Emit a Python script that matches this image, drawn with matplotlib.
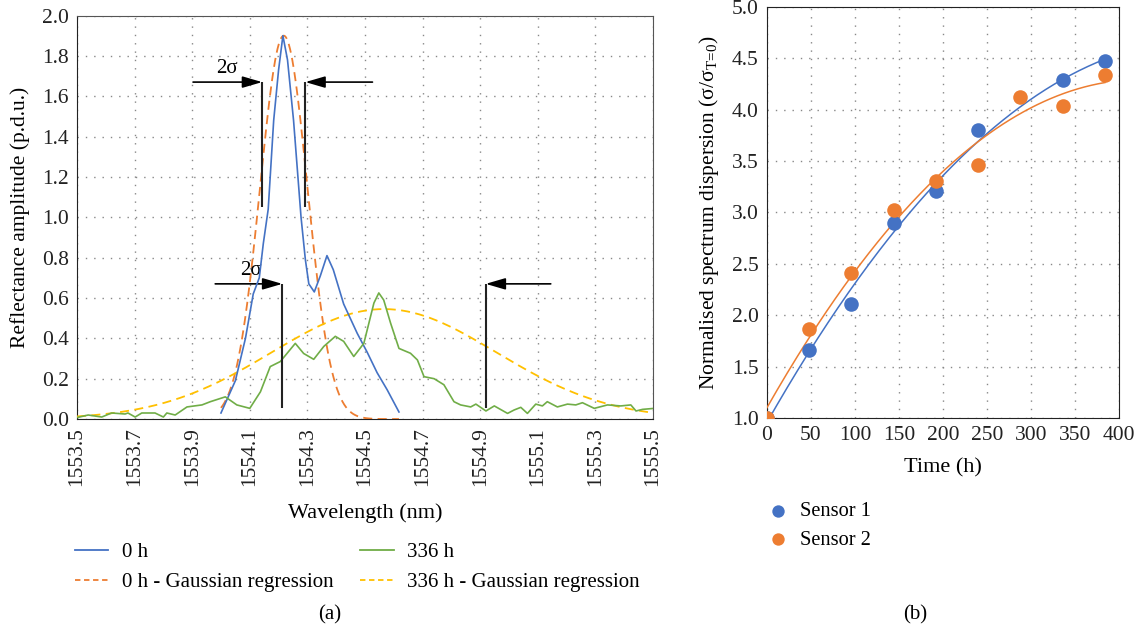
import numpy as np
import matplotlib.pyplot as plt
from matplotlib.lines import Line2D

plt.rcParams['font.family'] = ['Liberation Serif', 'DejaVu Serif']
plt.rcParams['mathtext.fontset'] = 'custom'
plt.rcParams['mathtext.rm'] = 'Liberation Serif'

BLUE = '#4472C4'
ORANGE = '#ED7D31'
GREEN = '#70AD47'
YELLOW = '#FFC000'

# ---- panel (a): spectra ----
wl_0h = [1554.00, 1554.05, 1554.085, 1554.112, 1554.133, 1554.147, 1554.164, 1554.183,
         1554.20, 1554.215, 1554.231, 1554.252, 1554.278, 1554.293, 1554.305, 1554.324,
         1554.345, 1554.368, 1554.39, 1554.426, 1554.473, 1554.508, 1554.542, 1554.577,
         1554.618]
amp_0h = [0.03, 0.19, 0.40, 0.62, 0.70, 0.87, 1.04, 1.48,
          1.73, 1.90, 1.78, 1.48, 1.00, 0.79, 0.67, 0.63,
          0.71, 0.81, 0.74, 0.57, 0.425, 0.33, 0.23, 0.145,
          0.035]

wl_336h = [1553.493, 1553.539, 1553.586, 1553.62, 1553.667, 1553.677, 1553.702, 1553.725,
           1553.771, 1553.80, 1553.812, 1553.841, 1553.882, 1553.934, 1553.963, 1554.015,
           1554.055, 1554.10, 1554.137, 1554.171, 1554.206, 1554.258, 1554.287, 1554.322,
           1554.357, 1554.397, 1554.426, 1554.461, 1554.496, 1554.531, 1554.548, 1554.565,
           1554.589, 1554.618, 1554.658, 1554.682, 1554.705, 1554.74, 1554.774, 1554.809,
           1554.832, 1554.867, 1554.885, 1554.92, 1554.949, 1554.995, 1555.018, 1555.041,
           1555.064, 1555.093, 1555.116, 1555.133, 1555.168, 1555.203, 1555.232, 1555.255,
           1555.296, 1555.342, 1555.388, 1555.423, 1555.441, 1555.464, 1555.505]
amp_336h = [0.005, 0.02, 0.01, 0.03, 0.025, 0.03, 0.01, 0.03,
            0.03, 0.01, 0.03, 0.02, 0.06, 0.07, 0.086, 0.11,
            0.07, 0.053, 0.135, 0.26, 0.285, 0.375, 0.325, 0.296,
            0.36, 0.41, 0.385, 0.31, 0.375, 0.575, 0.625, 0.59,
            0.475, 0.35, 0.326, 0.293, 0.21, 0.20, 0.17, 0.086,
            0.07, 0.06, 0.074, 0.04, 0.065, 0.028, 0.045, 0.058,
            0.028, 0.074, 0.065, 0.086, 0.06, 0.074, 0.07, 0.081,
            0.053, 0.07, 0.065, 0.07, 0.04, 0.048, 0.053]

# Gaussian regression parameters (amplitude, centre, sigma)
gauss_0h = (1.90, 1554.218, 0.082)
gauss_336h = (0.545, 1554.566, 0.39)

# ---- panel (b): dispersion ----
time_s1 = [0, 48, 96, 144, 192, 240, 336, 384]
disp_s1 = [1.00, 1.66, 2.11, 2.90, 3.21, 3.80, 4.29, 4.47]
time_s2 = [0, 48, 96, 144, 192, 240, 288, 336, 384]
disp_s2 = [1.00, 1.87, 2.41, 3.02, 3.31, 3.46, 4.12, 4.04, 4.34]

fig = plt.figure(figsize=(11.42, 6.33), dpi=100)
ax1 = fig.add_axes([0.0674, 0.338, 0.5044, 0.6375])
ax2 = fig.add_axes([0.6716, 0.3397, 0.3083, 0.6493])

grid_kw = dict(color='#888888', linestyle=(0, (1, 5)), linewidth=1.0)
TICK_FS = 15.5
LABEL_FS = 15.5


def gaussian(x, p):
    a, c, s = p
    return a * np.exp(-(x - c) ** 2 / (2 * s ** 2))


x0 = np.linspace(wl_0h[0], wl_0h[-1], 300)
x336 = np.linspace(1553.5, 1555.5, 400)

ax1.plot(wl_0h, amp_0h, color=BLUE, lw=1.2, label='0 h', zorder=4)
ax1.plot(x0, gaussian(x0, gauss_0h), color=ORANGE, lw=1.3, ls=(0, (5, 3)),
         label='0 h - Gaussian regression', zorder=3)
ax1.plot(wl_336h, amp_336h, color=GREEN, lw=1.2, label='336 h', zorder=4)
ax1.plot(x336, gaussian(x336, gauss_336h), color=YELLOW, lw=1.3, ls=(0, (5, 3)),
         label='336 h - Gaussian regression', zorder=3)

# 2-sigma annotations
arr = dict(arrowstyle='-|>,head_length=1.2,head_width=0.35', color='black', lw=1.2,
           shrinkA=0, shrinkB=0)
ax1.vlines([1554.143, 1554.293], 1.05, 1.67, color='#222222', lw=1.5, zorder=5)
ax1.annotate('', xy=(1554.143, 1.67), xytext=(1553.903, 1.67), arrowprops=arr)
ax1.annotate('', xy=(1554.293, 1.67), xytext=(1554.526, 1.67), arrowprops=arr)
ax1.text(1554.02, 1.69, '2σ', fontsize=15, ha='center', va='bottom')

ax1.vlines([1554.213, 1554.919], 0.055, 0.67, color='#222222', lw=1.5, zorder=5)
ax1.annotate('', xy=(1554.213, 0.67), xytext=(1553.98, 0.67), arrowprops=arr)
ax1.annotate('', xy=(1554.919, 0.67), xytext=(1555.145, 0.67), arrowprops=arr)
ax1.text(1554.105, 0.69, '2σ', fontsize=15, ha='center', va='bottom')

ax1.set_xlim(1553.5, 1555.5)
ax1.set_ylim(0, 2.0)
xt = np.round(np.arange(1553.5, 1555.51, 0.2), 1)
ax1.set_xticks(xt)
ax1.set_xticklabels([f'{v:.1f}' for v in xt], rotation=90)
ax1.set_yticks(np.round(np.arange(0, 2.01, 0.2), 1))
ax1.yaxis.set_major_formatter(plt.FormatStrFormatter('%.1f'))
ax1.tick_params(length=0, labelsize=TICK_FS, colors='#222222', pad=6)
ax1.grid(True, **grid_kw)
ax1.set_axisbelow(True)
for sp in ax1.spines.values():
    sp.set_color('#555555')
ax1.spines['left'].set_color('#222222')
ax1.spines['bottom'].set_color('#222222')
ax1.set_xlabel('Wavelength (nm)', fontsize=16, labelpad=12)
ax1.set_ylabel('Reflectance amplitude (p.d.u.)', fontsize=LABEL_FS)
ax1.yaxis.set_label_coords(-0.082, 0.5)

leg_handles = [Line2D([], [], color=BLUE, lw=1.3),
               Line2D([], [], color=ORANGE, lw=1.3, ls=(0, (3, 2))),
               Line2D([], [], color=GREEN, lw=1.3),
               Line2D([], [], color=YELLOW, lw=1.3, ls=(0, (3, 2)))]
leg_labels = ['0 h', '0 h - Gaussian regression', '336 h', '336 h - Gaussian regression']
fig.legend(leg_handles, leg_labels, ncol=2, loc='upper left',
           bbox_to_anchor=(0.049, 0.172), frameon=False, fontsize=15,
           handlelength=1.6, columnspacing=1.3, labelspacing=0.5, handletextpad=0.65,
           bbox_transform=fig.transFigure)

# panel (b)
t_fit = np.linspace(0, 384, 200)
c1 = np.polyfit(time_s1, disp_s1, 2)
c2 = np.polyfit(time_s2, disp_s2, 2)
ax2.plot(t_fit, np.polyval(c1, t_fit), color=BLUE, lw=1.1, zorder=3)
ax2.plot(t_fit, np.polyval(c2, t_fit), color=ORANGE, lw=1.1, zorder=3)
ax2.scatter(time_s1, disp_s1, s=110, color=BLUE, label='Sensor 1', zorder=4, linewidths=0)
ax2.scatter(time_s2, disp_s2, s=110, color=ORANGE, label='Sensor 2', zorder=4, linewidths=0)
ax2.set_xlim(0, 400)
ax2.set_ylim(1.0, 5.0)
ax2.set_xticks(np.arange(0, 401, 50))
ax2.set_yticks(np.arange(1.0, 5.01, 0.5))
ax2.yaxis.set_major_formatter(plt.FormatStrFormatter('%.1f'))
ax2.tick_params(length=0, labelsize=TICK_FS, colors='#222222', pad=6)
ax2.grid(True, **grid_kw)
ax2.set_axisbelow(True)
for sp in ax2.spines.values():
    sp.set_color('#222222')
ax2.set_xlabel('Time (h)', fontsize=16, labelpad=9)
ax2.set_ylabel('Normalised spectrum dispersion (σ/σ$_{\\mathregular{T\\!=\\!0}}$)',
               fontsize=LABEL_FS, labelpad=8)
ax2.legend(loc='upper left', bbox_to_anchor=(0.647, 0.236), bbox_transform=fig.transFigure,
           frameon=False, fontsize=14.7, handletextpad=0.1, labelspacing=0.45,
           scatterpoints=1, markerscale=0.85)

fig.text(0.289, 0.022, '(a)', fontsize=15, ha='center')
fig.text(0.801, 0.022, '(b)', fontsize=15, ha='center')

fig.savefig('out.png', dpi=100)
